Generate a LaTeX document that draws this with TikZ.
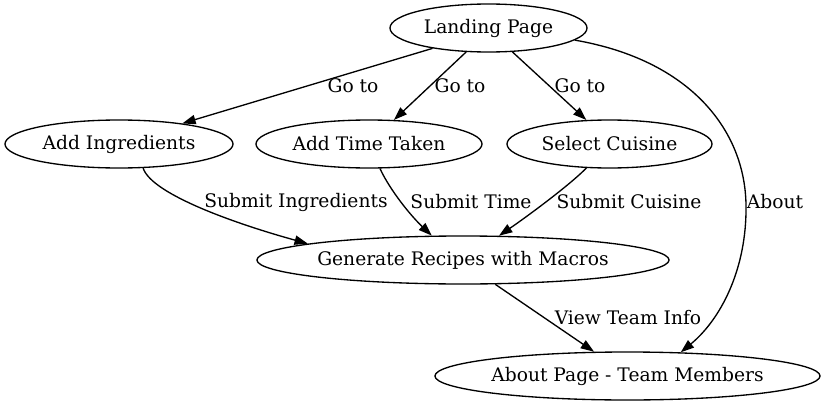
\documentclass[tikz,border=0pt]{standalone}
\usepackage{fontspec}
\setmainfont{DejaVu Serif}
\usepackage{tikz}
\usetikzlibrary{shapes.geometric,arrows.meta,positioning}

\begin{document}
\begin{tikzpicture}[
    x=0.75pt, y=-0.75pt,
    page/.style={ellipse, draw, inner sep=0pt, minimum height=36pt, font=\fontsize{14}{16}\selectfont},
    lbl/.style={inner sep=0pt, font=\fontsize{14}{16}\selectfont},
    -{Triangle[length=10pt,width=7pt]}, line width=1pt
]
    \useasboundingbox (0,0) rectangle (825,407);

    \node[page, minimum width=147.75pt] (landing) at (488.5,28) {Landing Page};
    \node[page, minimum width=171pt] (addingr) at (119,144) {Add Ingredients};
    \node[page, minimum width=169.5pt] (addtime) at (369,144) {Add Time Taken};
    \node[page, minimum width=153.75pt] (cuisine) at (609.5,144) {Select Cuisine};
    \node[page, minimum width=307.5pt] (generate) at (463,260) {Generate Recipes with Macros};
    \node[page, minimum width=288.75pt] (about) at (627.5,376) {About Page - Team Members};

    % Links from the landing page
    \draw (landing.-160) -- (addingr.18);
    \draw (landing.-133) -- (addtime.44);
    \draw (landing.-45) -- (cuisine.134);
    \coordinate (aboutbend) at (746,205);
    \draw (landing.-8) .. controls (690,60) and (745,130) .. (aboutbend)
        .. controls (747,270) and (720,320) .. (about.24);

    % Submissions
    \draw (addingr.-45) .. controls (152,195) and (240,225) .. (generate.174);
    \draw (addtime.-66) .. controls (390,190) and (410,215) .. (generate.142);
    \draw (cuisine.-134) .. controls (570,185) and (525,218) .. (generate.34);
    \draw (generate.-37) -- (about.144);

    % Labels
    \node[lbl] (goingr) at (353,86) {Go to};
    \node[lbl] (gotime) at (460,86) {Go to};
    \node[lbl] (gocuisine) at (580,86) {Go to};
    \node[lbl] (goabout) at (775,202) {About};
    \node[lbl] (subingr) at (296,202) {Submit Ingredients};
    \node[lbl] (subtime) at (471,202) {Submit Time};
    \node[lbl] (subcuisine) at (629,202) {Submit Cuisine};
    \node[lbl] (viewteam) at (628,318) {View Team Info};
\end{tikzpicture}
\end{document}
